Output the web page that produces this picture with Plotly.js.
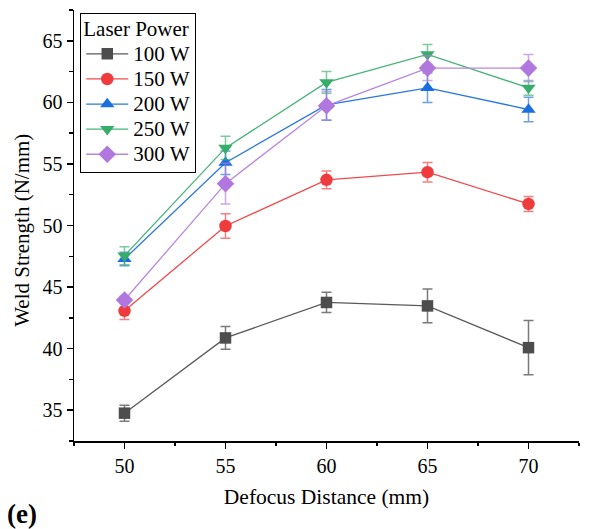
<!DOCTYPE html>
<html>
<head>
<meta charset="utf-8">
<script src="https://cdn.plot.ly/plotly-3.0.1.min.js"></script>
<style>
  html, body { margin: 0; padding: 0; background: #fff; }
  #chart { width: 610px; height: 529px; }
</style>
</head>
<body>
<div id="chart"></div>
<script>
// Defocus distance (mm)
const defocus = [50, 55, 60, 65, 70];

// Weld strength (N/mm) by laser power, with standard deviations
const power100 = [34.76, 40.87, 43.75, 43.47, 40.08];
const err100   = [0.65, 0.92, 0.82, 1.37, 2.20];

const power150 = [43.07, 49.96, 53.71, 54.33, 51.75];
const err150   = [0.70, 1.00, 0.72, 0.79, 0.61];

const power200 = [47.28, 55.10, 59.80, 61.18, 59.42];
const err200   = [0.55, 0.95, 1.25, 1.20, 1.00];

const power250 = [47.55, 56.30, 61.62, 63.90, 61.18];
const err250   = [0.73, 0.95, 0.88, 0.80, 0.60];

const power300 = [43.95, 53.40, 59.72, 62.78, 62.78];
const err300   = [0.30, 1.66, 1.16, 1.00, 1.10];

const seriesNames = ['100 W', '150 W', '200 W', '250 W', '300 W'];

const styles = [
  { color: '#4d4d4d', line: '#5a5a5a', err: 'rgba(77,77,77,0.75)',   symbol: 'square',        size: 11.5 },
  { color: '#f03b3d', line: '#f04a4c', err: 'rgba(240,59,61,0.65)',  symbol: 'circle',        size: 12.5 },
  { color: '#1a6fdf', line: '#2a78e0', err: 'rgba(26,111,223,0.65)', symbol: 'triangle-up',   size: 12.5 },
  { color: '#37ad6b', line: '#48b478', err: 'rgba(55,173,107,0.65)', symbol: 'triangle-down', size: 12.5 },
  { color: '#b177de', line: '#b886e0', err: 'rgba(177,119,222,0.65)', symbol: 'diamond',      size: 13.5 }
];

const values = [power100, power150, power200, power250, power300];
const errors = [err100, err150, err200, err250, err300];

// legend text is set a little larger than the row spacing implies
const big = t => '<span style="font-size:21px">' + t + '</span>';

const traces = values.map((v, i) => ({
  type: 'scatter',
  mode: 'lines+markers',
  name: big(seriesNames[i]),
  x: defocus,
  y: v,
  error_y: { type: 'data', array: errors[i], visible: true, color: styles[i].err, thickness: 1.5, width: 5 },
  line: { color: styles[i].line, width: 1.3 },
  marker: { color: styles[i].color, symbol: styles[i].symbol, size: styles[i].size, line: { width: 0 } }
}));

const serif = 'Liberation Serif, Times New Roman, serif';

const layout = {
  width: 610,
  height: 529,
  margin: { l: 74, r: 31, t: 10, b: 88 },
  paper_bgcolor: '#fff',
  plot_bgcolor: '#fff',
  font: { family: serif, size: 20, color: '#000' },
  showlegend: true,
  legend: {
    x: 0.012, y: 0.993, xanchor: 'left', yanchor: 'top',
    bgcolor: '#fff', bordercolor: '#000', borderwidth: 1.2,
    font: { family: serif, size: 17, color: '#000' },
    title: { text: big('Laser Power'), font: { family: serif, size: 17, color: '#000' } },
    itemwidth: 42,
    tracegroupgap: 0
  },
  xaxis: {
    range: [47.5, 72.5],
    tickvals: defocus,
    ticks: 'outside', ticklen: 6, tickwidth: 1.5, tickcolor: '#000',
    minor: { dtick: 2.5, tick0: 47.5, ticks: 'outside', ticklen: 3.5, tickwidth: 1.5, tickcolor: '#000' },
    showline: true, linecolor: '#000', linewidth: 1.5,
    showgrid: false, zeroline: false,
    tickfont: { family: serif, size: 20, color: '#000' },
    title: { text: 'Defocus Distance (mm)', font: { family: serif, size: 21.5, color: '#000' }, standoff: 13 }
  },
  yaxis: {
    range: [32.5, 67.5],
    tickvals: [35, 40, 45, 50, 55, 60, 65],
    ticks: 'outside', ticklen: 6, tickwidth: 1.5, tickcolor: '#000',
    minor: { dtick: 2.5, tick0: 32.5, ticks: 'outside', ticklen: 3.5, tickwidth: 1.5, tickcolor: '#000' },
    showline: true, linecolor: '#000', linewidth: 1.5,
    showgrid: false, zeroline: false,
    tickfont: { family: serif, size: 20, color: '#000' }
  },
  annotations: [
    {
      // y-axis title, sitting slightly below the plot's mid-height
      text: 'Weld Strength (N/mm)', xref: 'paper', yref: 'paper',
      x: -0.103, y: 0.49, xanchor: 'center', yanchor: 'middle', textangle: -90,
      showarrow: false, font: { family: serif, size: 21, color: '#000' }
    },
    {
      text: '<b>(e)</b>', xref: 'paper', yref: 'paper',
      x: -0.137, y: -0.17, xanchor: 'left', yanchor: 'middle',
      showarrow: false, font: { family: serif, size: 27, color: '#000' }
    }
  ]
};

Plotly.newPlot('chart', traces, layout, { displayModeBar: false, staticPlot: true });
</script>
</body>
</html>
